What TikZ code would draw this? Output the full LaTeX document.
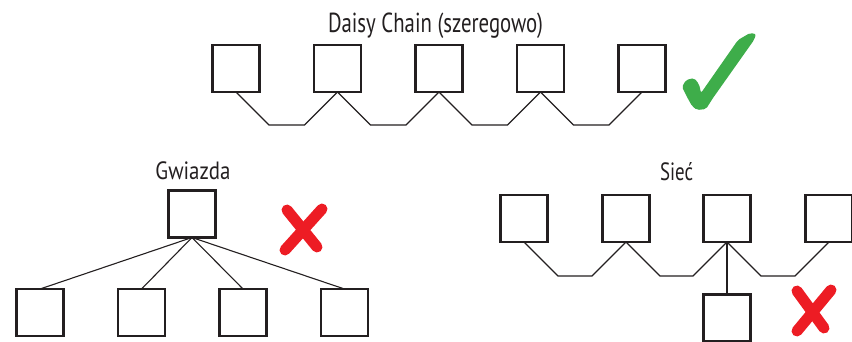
\documentclass[tikz,border=0pt]{standalone}
\usepackage{fontspec}
\usepackage{graphicx}
\setmainfont{PT Sans}
\usetikzlibrary{calc}
\definecolor{ink}{HTML}{231F20}
\definecolor{okgreen}{HTML}{3EAD4A}
\definecolor{nored}{HTML}{ED1C24}
\tikzset{
  dev/.style={draw=ink, line width=2.8pt, fill=white, minimum width=47pt, minimum height=47pt, inner sep=0pt, outer sep=0pt},
  wire/.style={draw=ink, line width=1.1pt},
  lbl/.style={anchor=base, inner sep=0pt, text=ink},
  xstroke/.style={draw=nored, line width=11pt, line cap=round},
}
\begin{document}
\begin{tikzpicture}[x=1pt, y=-1pt]
\useasboundingbox (0,0) rectangle (852,341);
\clip (0,0) rectangle (852,341);
% titles
\node[lbl, font=\fontsize{27.5}{30}\selectfont] (tdc) at (435.5,32) {\resizebox{215pt}{\height}{Daisy Chain (szeregowo)}};
\node[lbl, font=\fontsize{25}{28}\selectfont] (tgw) at (193,179) {\resizebox{75pt}{\height}{Gwiazda}};
\node[lbl, font=\fontsize{25}{28}\selectfont] (tsi) at (676.5,180) {\resizebox{33pt}{\height}{Sieć}};
% daisy chain
\foreach \i/\x in {1/236,2/337.5,3/439,4/540.5,5/642}
  \node[dev] (d\i) at (\x,68.5) {};
\foreach \a/\b in {1/2,2/3,3/4,4/5}
  \draw[wire] (d\a.south) -- ++(33,33) -- ($(d\b.south)+(-33,33)$) -- (d\b.south);
% check mark
\fill[okgreen, rounded corners=2pt] (682,87) -- (686,80) -- (694,78) -- (699,84) -- (701,93)
  -- (738,40) -- (750,33) -- (756,34) -- (754,40) -- (713,98) -- (706,109) -- (697,110)
  -- (692,106) -- (687,97) -- cycle;
% star
\node[dev] (g0) at (192,214) {};
\foreach \i/\x in {1/40,2/141.5,3/243,4/344.5}
  \node[dev] (g\i) at (\x,312.5) {};
\foreach \i in {1,2,3,4}
  \draw[wire] (g0.south) -- (g\i.north);
\coordinate (xa1) at (287,210); \coordinate (xa2) at (317,247);
\coordinate (xb1) at (322,209); \coordinate (xb2) at (285,250);
\draw[xstroke] (xa1) -- (xa2);
\draw[xstroke] (xb1) -- (xb2);
% mesh
\foreach \i/\x in {1/524,2/626,3/727,4/829}
  \node[dev] (s\i) at (\x,218.5) {};
\node[dev] (s5) at (727,318) {};
\foreach \a/\b in {1/2,2/3,3/4}
  \draw[wire] (s\a.south) -- ++(34,34) -- ($(s\b.south)+(-34,34)$) -- (s\b.south);
\draw[wire] (s3.south) -- (s5.north);
\coordinate (ya1) at (797,291); \coordinate (ya2) at (824,328);
\coordinate (yb1) at (831,290); \coordinate (yb2) at (797,331);
\draw[xstroke] (ya1) -- (ya2);
\draw[xstroke] (yb1) -- (yb2);
\end{tikzpicture}
\end{document}
